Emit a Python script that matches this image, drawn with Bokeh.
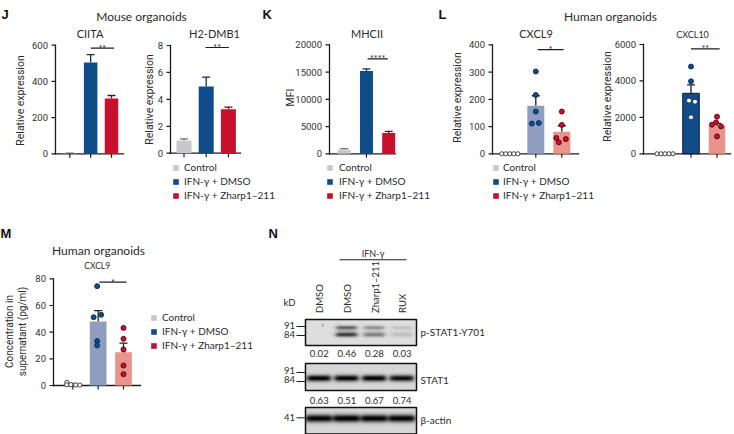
import numpy as np
from bokeh.plotting import figure
from bokeh.models import (Range1d, Label, Legend, LegendItem, Whisker, TeeHead,
                          ColumnDataSource, LinearColorMapper)
from bokeh.embed import file_html
from bokeh.resources import INLINE
from bokeh.core.properties import value

# ---------------- data ----------------
groups = ["Control", "IFN-\u03b3 + DMSO", "IFN-\u03b3 + Zharp1\u2013211"]

# J  mouse organoids (qPCR)
ciita_mean = [2, 504, 305]
ciita_upper = [4, 548, 322]
ciita_ticks = [0, 200, 400, 600]
ciita_tick_labels = ["0", "200", "400", "600"]
h2dmb1_mean = [0.94, 4.95, 3.27]
h2dmb1_upper = [1.07, 5.65, 3.42]
h2dmb1_ticks = [0, 2, 4, 6, 8]
h2dmb1_tick_labels = ["0", "2", "4", "6", "8"]
# K  flow cytometry
mhcii_mean = [760, 15200, 3800]
mhcii_upper = [950, 15600, 4100]
mhcii_ticks = [0, 5000, 10000, 15000, 20000]
mhcii_tick_labels = ["0", "5000", "10000", "15000", "20000"]
# L  human organoids (qPCR)
cxcl9_mean = [0, 176, 81]
cxcl9_upper = [0, 213, 103]
cxcl9_pts = [[0, 0, 0, 0, 0], [302, 216, 155, 111, 113], [155, 106, 58, 42, 54]]
cxcl9_jit = [[-8, -4, 0, 4, 8], [0, 0, 0, -4, 3], [0, 0, -5.5, -3, 4]]
cxcl9_ticks = [0, 100, 200, 300, 400]
cxcl9_tick_labels = ["0", "100", "200", "300", "400"]
cxcl10_mean = [0, 3320, 1520]
cxcl10_upper = [0, 3780, 1670]
cxcl10_pts = [[0, 0, 0, 0, 0], [4790, 3980, 2920, 2860, 2000], [2040, 1725, 1600, 1505, 955]]
cxcl10_jit = [[-8, -4, 0, 4, 8], [0, 0, -2, 4, 0], [0, -1, -5, 4, 0]]
cxcl10_ticks = [0, 2000, 4000, 6000]
cxcl10_tick_labels = ["0", "2000", "4000", "6000"]
# M  supernatant ELISA
sup_mean = [1.0, 48, 25]
sup_upper = [1.6, 56.2, 31.7]
sup_pts = [[2.3, 0.5, 0.6, 0.4, 0.3], [74.5, 53, 51.2, 33.3, 30], [43.2, 35, 27, 15, 8.5]]
sup_jit = [[-6, -6, -2, 3, 7], [-1, 3, -4.5, -1, -1], [0, 0, 0, 0, 0]]
sup_ticks = [0, 20, 40, 60, 80]
sup_tick_labels = ["0", "20", "40", "60", "80"]
# N  western blot
lanes = ["DMSO", "DMSO", "Zharp1\u2013211", "RUX"]
pstat1_ratio = ["0.02", "0.46", "0.28", "0.03"]
stat1_ratio = ["0.63", "0.51", "0.67", "0.74"]
pstat1_upper_band = [0.0, 0.45, 0.28, 0.10]
pstat1_lower_band = [0.0, 0.60, 0.36, 0.12]
pstat1_smear = [0.0, 0.15, 0.08, 0.03]
stat1_band = [0.86, 0.86, 0.86, 0.82]
actin_band = [0.86, 0.88, 0.86, 0.86]

# ---------------- style ----------------
W, H = 734, 434
C_CTRL = "#c7c7cc"
C_DMSO = "#0f4c89"
C_ZH = "#c8102e"
C_DMSO_L = "#8f9dc1"
C_ZH_L = "#e8948a"
E_CTRL = "#6e6e73"
E_DMSO = "#0b2f57"
E_ZH = "#6a0a18"
AX = "#1c1c1c"
TXT = "#2b2b2b"
FONT = "Lato"
NUMF = "Roboto"
PI2 = np.pi / 2

# panel geometry (layout, pixels): first bar centre, bar pitch, zero line, top tick, y max
GEO = {
    "ciita": dict(c1=69.3, d=20.85, zero=153.3, top=44.7, ymax=600),
    "h2": dict(c1=183.5, d=22.2, zero=152.7, top=45.0, ymax=8),
    "mhc": dict(c1=343.7, d=22.25, zero=153.3, top=44.3, ymax=20000),
    "cx9": dict(c1=509.3, d=26.0, zero=153.3, top=44.3, ymax=400),
    "cx10": dict(c1=664.5, d=26.0, zero=153.3, top=44.0, ymax=6000),
    "sup": dict(c1=72.3, d=25.35, zero=385.0, top=278.3, ymax=80),
}
LC1, LD = 318.2, 27.6          # blot lane 1 centre and lane pitch
BL_L, BL_R = 305.0, 416.0      # blot edges

xr = {k + "x": Range1d(1 + (0 - g["c1"]) / g["d"], 1 + (W - g["c1"]) / g["d"]) for k, g in GEO.items()}
yr = {k + "y": Range1d((g["zero"] - H) * g["ymax"] / (g["zero"] - g["top"]),
                       g["zero"] * g["ymax"] / (g["zero"] - g["top"])) for k, g in GEO.items()}
xr["nbx"] = Range1d(1 + (0 - LC1) / LD, 1 + (W - LC1) / LD)
yr["nby"] = Range1d(-H, 0)

p = figure(width=W, height=H, x_range=Range1d(0, W), y_range=Range1d(H, 0),
           x_axis_type=None, y_axis_type=None, min_border_left=0, min_border_right=0,
           min_border_top=0, min_border_bottom=0, output_backend="svg",
           toolbar_location=None, tools="", title=None)
p.extra_x_ranges = xr
p.extra_y_ranges = yr
p.outline_line_color = None
p.background_fill_color = "white"
p.border_fill_color = "white"


def ux(k, px):
    g = GEO[k]
    return 1 + (px - g["c1"]) / g["d"]


def ky(k):
    g = GEO[k]
    return g["ymax"] / (g["zero"] - g["top"])


def lab(x, y, text, size=10.0, align="left", baseline="alphabetic", angle=0.0,
        bold=False, font=FONT, color=TXT, xname="default", yname="default"):
    p.add_layout(Label(x=x, y=y, x_range_name=xname, y_range_name=yname, text=text,
                       text_font=font, text_font_size=f"{size}px", text_align=align,
                       text_baseline=baseline, angle=angle, text_color=color,
                       text_font_style="bold" if bold else "normal"))


def axes(k, axis_px, xend_px, yticks, ylabels, xticks):
    g = GEO[k]
    rn = dict(x_range_name=k + "x", y_range_name=k + "y")
    ax = ux(k, axis_px)
    xe = ux(k, xend_px)
    p.segment(x0=[ax, ax], y0=[0, 0], x1=[ax, xe], y1=[g["ymax"], 0],
              line_color=AX, line_width=1.3, line_cap="square", **rn)
    n = len(yticks)
    p.segment(x0=[ax - 4 / g["d"]] * n, y0=yticks, x1=[ax] * n, y1=yticks,
              line_color=AX, line_width=1.2, **rn)
    m = len(xticks)
    p.segment(x0=xticks, y0=[0] * m, x1=xticks, y1=[-4 * ky(k)] * m,
              line_color=AX, line_width=1.2, **rn)
    p.text(x=[ax - 7.5 / g["d"]] * n, y=yticks, text=ylabels, text_align="right",
           text_baseline="middle", text_font=value(NUMF), text_font_size=value("9.5px"),
           text_color="#333333", **rn)


def bars(k, means, uppers, colors, errc, bw_px, lines=None):
    g = GEO[k]
    rn = dict(x_range_name=k + "x", y_range_name=k + "y")
    rs = []
    for i, (mv, u, c, ec) in enumerate(zip(means, uppers, colors, errc)):
        lc = lines[i] if lines else None
        if mv > 0:
            rs.append(p.vbar(x=[i + 1], top=[mv], bottom=0, width=bw_px / g["d"],
                             fill_color=c, line_color=lc, line_width=1, **rn))
        if u > mv:
            src = ColumnDataSource(dict(x=[i + 1], lo=[mv], up=[u]))
            p.add_layout(Whisker(source=src, base="x", lower="lo", upper="up",
                                 dimension="height", line_color=ec, line_width=1.3,
                                 upper_head=TeeHead(size=8, line_color=ec, line_width=1.3),
                                 lower_head=None, **rn))
    return rs


def dots(k, pts, jit, fills, lines, sizes):
    g = GEO[k]
    for i in range(3):
        xs = [i + 1 + j / g["d"] for j in jit[i]]
        p.scatter(x=xs, y=pts[i], size=sizes[i], fill_color=fills[i],
                  line_color=lines[i], line_width=0.9,
                  x_range_name=k + "x", y_range_name=k + "y")


def sig(k, x0, x1, yv, text):
    p.segment(x0=[x0], y0=[yv], x1=[x1], y1=[yv], line_color=AX, line_width=1.2,
              x_range_name=k + "x", y_range_name=k + "y")
    lab((x0 + x1) / 2, yv, text, 9, "center", "alphabetic", xname=k + "x", yname=k + "y")


def swatches(k):
    # zero-size bars whose only role is to give the legend its colour keys
    return [p.vbar(x=[i + 1], top=[0], bottom=[0], width=0, fill_color=c, line_color=None,
                   x_range_name=k + "x", y_range_name=k + "y")
            for i, c in enumerate((C_CTRL, C_DMSO, C_ZH))]


def legend(renderers, sq_left, row1, standoff):
    top = row1 - 7
    lg = Legend(items=[LegendItem(label=value(gname), renderers=[r])
                       for gname, r in zip(groups, renderers)],
                location=(sq_left, H - top - 42), glyph_width=7, glyph_height=7,
                label_height=14, spacing=0, padding=0, margin=0,
                label_standoff=standoff, border_line_color=None,
                background_fill_alpha=0, label_text_font=FONT,
                label_text_font_size="10px", label_text_color=TXT)
    p.add_layout(lg)


# ---------------- panel letters and headings ----------------
for t, x, y in [("J", 1, 13.5), ("K", 262, 13.5), ("L", 438, 13.5), ("M", 0, 232.7), ("N", 268, 232.7)]:
    lab(x, y, t, 13, bold=True, font="Liberation Sans", color="#111111")
lab(141, 15.5, "Mouse organoids", 12, "center")
lab(610, 15.5, "Human organoids", 12, "center")

# ---------------- J: CIITA ----------------
axes("ciita", 55, 123, ciita_ticks, ciita_tick_labels, [1, 2, 3])
bars("ciita", ciita_mean, ciita_upper, [C_CTRL, C_DMSO, C_ZH], [E_CTRL, E_DMSO, E_ZH], 13.5)
sig("ciita", 2.0, 3.12, 584, "**")
lab(89.5, 33.3, "CIITA", 11, "center")
lab(20, 100, "Relative expression", 10.5, "center", "middle", PI2, font=NUMF)

# ---------------- J: H2-DMB1 ----------------
axes("h2", 170, 240, h2dmb1_ticks, h2dmb1_tick_labels, [1, 2, 3])
r_h2 = bars("h2", h2dmb1_mean, h2dmb1_upper, [C_CTRL, C_DMSO, C_ZH], [E_CTRL, E_DMSO, E_ZH], 15)
sig("h2", 1.97, 3.02, 7.85, "**")
lab(214, 33.3, "H2-DMB1", 11, "center")
lab(149, 99, "Relative expression", 10.5, "center", "middle", PI2, font=NUMF)
legend(r_h2, 172, 167, 5)

# ---------------- K: MHCII ----------------
axes("mhc", 329, 395, mhcii_ticks, mhcii_tick_labels, [2])
r_k = bars("mhc", mhcii_mean, mhcii_upper, [C_CTRL, C_DMSO, C_ZH], [E_CTRL, E_DMSO, E_ZH], 13)
sig("mhc", 2.05, 2.96, 17430, "****")
lab(366.5, 33.3, "MHCII", 11, "center")
lab(290, 97, "MFI", 10.5, "center", "middle", PI2, font=NUMF)
legend(r_k, 326, 167, 6)

# ---------------- L: CXCL9 ----------------
axes("cx9", 492, 578, cxcl9_ticks, cxcl9_tick_labels, [2, 3])
bars("cx9", cxcl9_mean, cxcl9_upper, [C_CTRL, C_DMSO_L, C_ZH_L], [AX, AX, AX], 17)
dots("cx9", cxcl9_pts, cxcl9_jit, ["white", C_DMSO, C_ZH], ["#333333", "#0a2a50", "#5a0010"],
     [4.2, 5.0, 5.0])
sig("cx9", 2.07, 3.07, 382, "*")
lab(535.5, 33.3, "CXCL9", 11, "center")
lab(457, 97, "Relative expression", 10.5, "center", "middle", PI2, font=NUMF)
legend(swatches("cx9"), 492, 167, 4)

# ---------------- L: CXCL10 ----------------
axes("cx10", 643, 730, cxcl10_ticks, cxcl10_tick_labels, [2, 3])
bars("cx10", cxcl10_mean, cxcl10_upper, [C_CTRL, C_DMSO, C_ZH_L], [AX, AX, AX], 16.5,
     lines=[None, "#0a1a30", None])
dm_fill = [C_DMSO, C_DMSO, "white", "white", "white"]
dots("cx10", cxcl10_pts, cxcl10_jit, ["white", dm_fill, C_ZH], ["#333333", "#0a2a50", "#5a0010"],
     [4.2, 5.0, 5.0])
sig("cx10", 2.0, 3.1, 5760, "**")
lab(692, 34, "CXCL10", 9, "center")
lab(607, 96, "Relative expression", 10.5, "center", "middle", PI2, font=NUMF)

# ---------------- M ----------------
axes("sup", 53, 140, sup_ticks, sup_tick_labels, [1, 2, 3])
bars("sup", sup_mean, sup_upper, [C_CTRL, C_DMSO_L, C_ZH_L], [E_CTRL, AX, AX], 16.7)
dots("sup", sup_pts, sup_jit, ["white", C_DMSO, C_ZH], ["#333333", "#0a2a50", "#5a0010"],
     [4.2, 5.0, 5.0])
sig("sup", 2.05, 3.12, 77.5, "*")
lab(98, 250.3, "Human organoids", 12, "center")
lab(96.7, 265.3, "CXCL9", 8.5, "center")
lab(8.5, 331, "Concentration in", 10, "center", "middle", PI2, font=NUMF)
lab(21.7, 331, "supernatant (pg/ml)", 10, "center", "middle", PI2, font=NUMF)
legend(swatches("sup"), 150, 317, 5)

# ---------------- N: western blot ----------------
grey = [f"#{v:02x}{v:02x}{v:02x}" for v in range(256)]
cmap = LinearColorMapper(palette=grey, low=0, high=1)


def blot(top, bottom, bg, bands, specks=()):
    ny = int(round((bottom - top) * 2))
    nx = int(round((BL_R - BL_L) * 2))
    ys = bottom - (np.arange(ny) + 0.5) * (bottom - top) / ny
    xl = 1 + (BL_L + (np.arange(nx) + 0.5) * (BL_R - BL_L) / nx - LC1) / LD
    img = np.full((ny, nx), bg)
    for yc, sg, hw, ints in bands:
        gy = np.exp(-0.5 * ((ys - yc) / sg) ** 2)[:, None]
        for li, a in enumerate(ints):
            gx = 1.0 / (1.0 + np.exp((np.abs(xl - (li + 1)) - hw) / 0.05))
            img = img - a * gy * gx[None, :]
    for sxl, syc, a in specks:
        img = img - a * np.exp(-0.5 * ((ys[:, None] - syc) / 0.7) ** 2
                               - 0.5 * ((xl[None, :] - sxl) * LD / 0.7) ** 2)
    img = np.clip(img, 0, 1)
    p.image(image=[img], x=1 + (BL_L - LC1) / LD, y=-bottom, dw=(BL_R - BL_L) / LD,
            dh=bottom - top, color_mapper=cmap, x_range_name="nbx", y_range_name="nby")
    p.quad(left=[1 + (BL_L - LC1) / LD], right=[1 + (BL_R - LC1) / LD], top=[-top],
           bottom=[-bottom], fill_color=None, line_color="#111111", line_width=1.5,
           x_range_name="nbx", y_range_name="nby")


blot(319, 345, 0.87, [(327.3, 1.3, 0.36, pstat1_upper_band),
                      (334.5, 1.5, 0.38, pstat1_lower_band),
                      (331.0, 3.0, 0.36, pstat1_smear)], specks=[(1.14, 325, 0.35)])
blot(363, 390, 0.84, [(378.0, 2.2, 0.42, stat1_band)])
blot(407, 433.5, 0.84, [(418.5, 2.6, 0.47, actin_band)])

lab(372.5, 253, "IFN-\u03b3", 9, "center")
p.segment(x0=[339], y0=[259.3], x1=[406], y1=[259.3], line_color=AX, line_width=1.1)
for i, t in enumerate(lanes):
    lab(i + 1 + 0.04, 312.5, t, 9.5, "left", "middle", PI2, xname="nbx")
    lab(i + 1 + 0.02, 353, pstat1_ratio[i], 9.5, "center", "middle", xname="nbx")
    lab(i + 1 + 0.02, 399.7, stat1_ratio[i], 9.5, "center", "middle", xname="nbx")
lab(283, 302, "kD", 9.5)
for t, yl, yt in [("91", 325, 326), ("84", 334.3, 335), ("91", 370.3, 372),
                  ("84", 379.3, 381), ("41", 416.7, 417.3)]:
    lab(294.5, yl, t, 9.5, "right", "middle")
    p.segment(x0=[296], y0=[yt], x1=[305], y1=[yt], line_color=AX, line_width=1.0)
lab(420, 331, "p-STAT1-Y701", 10, "left", "middle")
lab(420, 379, "STAT1", 10, "left", "middle")
lab(420, 419.3, "\u03b2-actin", 10, "left", "middle")

open("out.html", "w").write(file_html(p, INLINE))
